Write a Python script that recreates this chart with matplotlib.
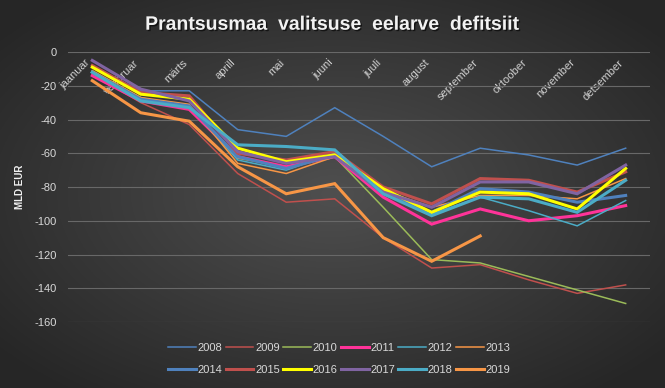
import numpy as np
import matplotlib
matplotlib.use('Agg')
import matplotlib.pyplot as plt
import matplotlib.patheffects as pe

plt.rcParams['font.family'] = ['Liberation Sans', 'DejaVu Sans']
plt.rcParams['axes.unicode_minus'] = False

months = ['jaanuar', 'veebruar', 'märts', 'aprill', 'mai', 'juuni', 'juuli',
          'august', 'september', 'oktoober', 'november', 'detsember']

y2008 = [-9, -23, -23, -46, -50, -33, -50, -68, -57, -61, -67, -57]
y2009 = [-13, -30, -43, -72, -89, -87, -110, -128, -126, -135, -143, -138]
y2010 = [-12, -27, -33, -63, -68, -62, -92, -123, -125, -133, -141, -149]
y2011 = [-14, -29, -34, -62, -68, -62, -86, -102, -93, -100, -97, -91]
y2012 = [-12, -28, -32, -64, -70, -60, -84, -96, -86, -94, -103, -88]
y2013 = [-11, -27, -31, -66, -72, -62, -82, -92, -85, -85, -87, -75]
y2014 = [-12, -28, -32, -62, -69, -61, -84, -95, -81, -83, -89, -85]
y2015 = [-8, -24, -26, -60, -64, -59, -80, -90, -75, -76, -83, -71]
y2016 = [-9, -25, -28, -57, -65, -61, -81, -95, -83, -84, -93, -69]
y2017 = [-5, -22, -29, -59, -66, -62, -83, -92, -77, -77, -84, -67]
y2018 = [-12, -29, -33, -55, -56, -58, -84, -97, -86, -87, -95, -76]
y2019 = [-17, -36, -41, -68, -84, -78, -110, -124, -109]

series = [
    ('2008', y2008, '#4F81BD', 1.1),
    ('2009', y2009, '#C0504D', 1.1),
    ('2010', y2010, '#9BBB59', 1.1),
    ('2011', y2011, '#FF3399', 2.2),
    ('2012', y2012, '#4BACC6', 1.1),
    ('2013', y2013, '#F79646', 1.1),
    ('2014', y2014, '#4F81BD', 2.2),
    ('2015', y2015, '#C0504D', 2.2),
    ('2016', y2016, '#FFFF00', 2.2),
    ('2017', y2017, '#8064A2', 2.2),
    ('2018', y2018, '#4BACC6', 2.2),
    ('2019', y2019, '#F79646', 2.2),
]

fig = plt.figure(figsize=(6.65, 3.88), dpi=100)

# radial gradient background
bg = fig.add_axes([0, 0, 1, 1], zorder=-10)
gx, gy = np.meshgrid(np.linspace(-1, 1, 400), np.linspace(-1, 1, 240))
r = np.clip(np.sqrt(gx**2 + gy**2) / 1.3, 0, 1)
shade = 0.31 - 0.16 * r
bg.imshow(np.dstack([shade, shade, shade]), aspect='auto', extent=[0, 1, 0, 1])
bg.axis('off')

ax = fig.add_axes([0.1023, 0.170, 0.875, 0.696])
ax.set_facecolor('none')

x = np.arange(len(months))
handles = []
for name, vals, color, lw in series:
    h, = ax.plot(x[:len(vals)], vals, color=color, linewidth=lw, label=name,
                 solid_joinstyle='miter')
    handles.append(h)

ax.set_xlim(-0.5, len(months) - 0.5)
ax.set_ylim(-160, 0)
ax.set_yticks(np.arange(-160, 1, 20))
ax.yaxis.grid(True, color='#686868', linewidth=0.8)
ax.set_axisbelow(True)
for s in ax.spines.values():
    s.set_visible(False)

ax.spines['bottom'].set_position(('data', 0))
ax.set_xticks(x)
ax.set_xticklabels(months, rotation=45, ha='right', va='top')
ax.tick_params(axis='x', length=0, pad=4, labelsize=8, labelcolor='#D0D0D0')
ax.tick_params(axis='y', length=0, pad=8, labelsize=8, labelcolor='#D9D9D9')

ax.set_ylabel('MLD EUR', fontsize=7, fontweight='bold', color='#F2F2F2')
ax.yaxis.set_label_coords(-0.074, 0.5)

fig.text(0.5, 0.935, 'Prantsusmaa  valitsuse  eelarve  defitsiit', ha='center', va='center',
         fontsize=14, fontweight='bold', color='#F2F2F2',
         path_effects=[pe.withSimplePatchShadow(offset=(1, -1), shadow_rgbFace='black', alpha=0.6)])

order = []
for i in range(6):
    order += [handles[i], handles[i + 6]]
leg = fig.legend(order, [h.get_label() for h in order], ncol=6, loc='center',
                 bbox_to_anchor=(0.51, 0.075), frameon=False, fontsize=8,
                 handlelength=2.5, handletextpad=0.15, columnspacing=0.3,
                 labelspacing=1.1, labelcolor='#D9D9D9')

fig.savefig('out.png', dpi=100)
